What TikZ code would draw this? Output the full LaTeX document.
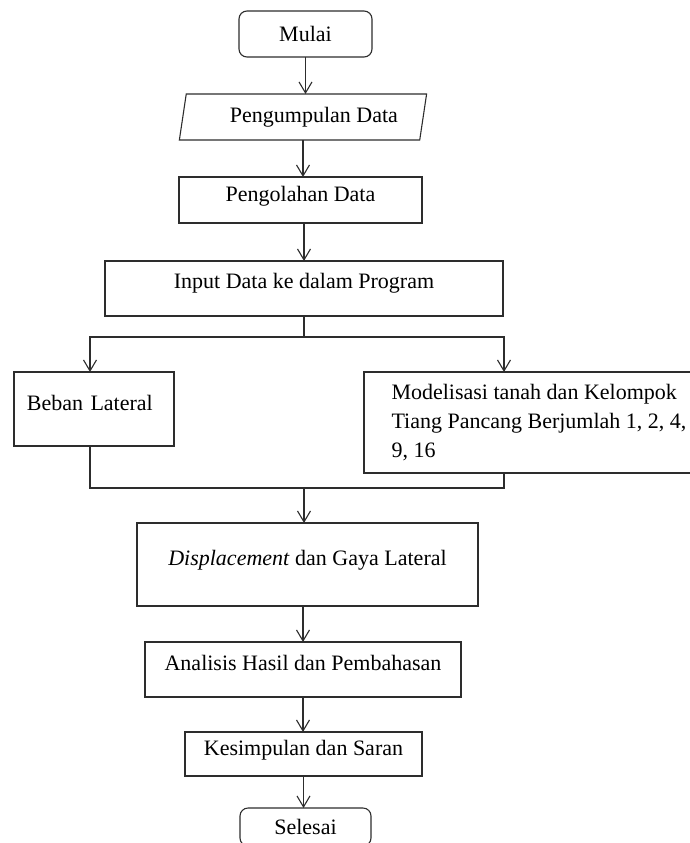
\documentclass[tikz,border=0pt]{standalone}
\usepackage{fontspec}
\setmainfont{Liberation Serif}
\usepackage{tikz}
\usetikzlibrary{shapes.geometric,arrows.meta,positioning}
\definecolor{garis}{RGB}{45,45,45}

\begin{document}
\begin{tikzpicture}[
    font=\fontsize{22}{29}\selectfont,
    node distance=37pt,
    terminal/.style={rectangle, draw=garis, line width=1.1pt, rounded corners=8pt, minimum width=133pt, minimum height=46pt, inner sep=2pt, outer sep=0pt},
    io/.style={trapezium, trapezium left angle=76.6, trapezium right angle=103.4, trapezium stretches=true, draw=garis, line width=1.1pt, minimum width=248pt, minimum height=46pt, inner sep=2pt, outer sep=0pt},
    proses/.style={rectangle, draw=garis, line width=1.1pt, text height=15pt, text depth=13pt, inner sep=2pt, outer sep=0pt},
    line/.style={draw=garis, line width=1.1pt, -{Straight Barb[length=11pt,width=13pt]}}
]
\useasboundingbox (0,0) rectangle (689pt,-843pt);

\node [terminal] (mulai) at (305.5pt,-34pt) {Mulai};
\node [io, below=of mulai, xshift=-2.5pt] (kumpul) {\hspace*{22pt}Pengumpulan Data};
\node [proses, below=of kumpul, xshift=-2.5pt, minimum width=243pt, minimum height=46pt] (olah) {Pengolahan Data};
\node [proses, below=38pt of olah, xshift=3.5pt, minimum width=398pt, minimum height=55pt, text depth=15pt] (input) {Input Data ke dalam Program};

\node [proses, below=56pt of input, xshift=-210pt, minimum width=160pt, minimum height=74pt, text width=134pt, inner xsep=13pt, align=left] (beban) {Beban Lateral};
\node [rectangle, draw=garis, line width=1.1pt, outer sep=0pt, below=56pt of input, xshift=235pt, minimum width=350pt, minimum height=101pt, inner sep=2pt, align=left] (model) {Modelisasi tanah dan Kelompok\\Tiang Pancang Berjumlah 1, 2, 4,\\9, 16};

\node [proses, below=207pt of input, xshift=3.5pt, minimum width=341pt, minimum height=83pt] (disp) {\textit{Displacement} dan Gaya Lateral};
\node [proses, below=36pt of disp, xshift=-4.5pt, minimum width=316pt, minimum height=55pt] (analisis) {Analisis Hasil dan Pembahasan};
\node [proses, below=35pt of analisis, xshift=0.5pt, minimum width=237pt, minimum height=44pt] (simpul) {Kesimpulan dan Saran};
\node [terminal, below=32pt of simpul, xshift=2pt, minimum width=131pt, minimum height=38pt] (selesai) {Selesai};

\path [line] (mulai.south) -- (mulai.south |- kumpul.north);
\path [line] (kumpul.south) -- (kumpul.south |- olah.north);
\path [line] (input.north |- olah.south) -- (input.north);

% cabang ke dua proses
\path [draw=garis, line width=1.1pt] (input.south) -- ++(0,-21pt) coordinate (cabang);
\path [line] (cabang) -| ([xshift=-4pt]beban.north);
\path [line] (cabang) -| ([xshift=-35pt]model.north);

% gabung kembali
\path [draw=garis, line width=1.1pt] ([xshift=-4pt]beban.south) -- ++(0,-42pt) coordinate (gabung) -| ([xshift=-35pt]model.south);
\path [line] (gabung -| input.south) -- (input.south |- disp.north);

\path [line] (analisis.north |- disp.south) -- (analisis.north);
\path [line] (analisis.south) -- (analisis.south |- simpul.north);
\path [line] (simpul.south) -- (simpul.south |- selesai.north);

\end{tikzpicture}
\end{document}
